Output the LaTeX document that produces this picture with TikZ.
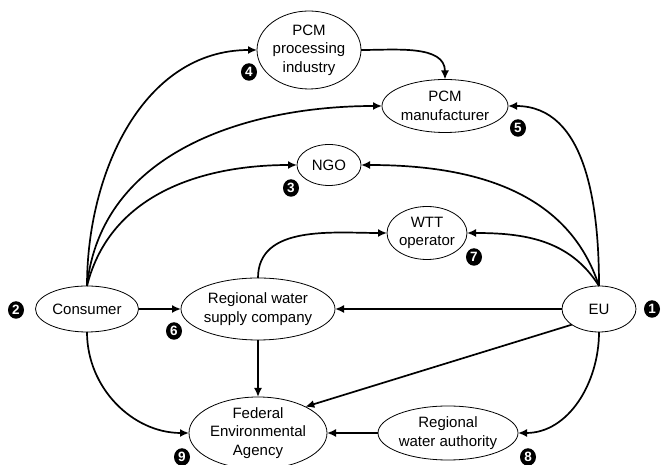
\documentclass[tikz,border=0pt]{standalone}
\usepackage{fontspec}
\setmainfont{Liberation Sans}
\usetikzlibrary{shapes.geometric,arrows.meta}

\tikzset{
  actor/.style={draw, ellipse, line width=0.8pt, inner sep=-10pt, outer sep=0pt,
    align=center, font=\fontsize{15}{18.5}\selectfont},
  flow/.style={line width=1.7pt, -{Latex[length=9pt,width=8pt]}},
  marker/.style={fill=black, ellipse, minimum width=16pt, minimum height=17.5pt,
    inner sep=0pt, text=white, font=\fontsize{13.5}{14}\selectfont\bfseries}
}

\begin{document}
\begin{tikzpicture}[x=1pt, y=1pt]
  \useasboundingbox (0,0) rectangle (662,465);

  % actors
  \node[actor, minimum width=104pt, minimum height=78pt] (proc) at (309,415) {PCM\\processing\\industry};
  \node[actor, minimum width=126pt, minimum height=53pt] (manuf) at (445,359) {PCM\\manufacturer};
  \node[actor, minimum width=64pt, minimum height=41pt] (ngo) at (329,300) {NGO};
  \node[actor, minimum width=80pt, minimum height=53pt] (wtt) at (427,232) {WTT\\operator};
  \node[actor, minimum width=103pt, minimum height=46pt] (consumer) at (87,156) {Consumer};
  \node[actor, minimum width=154pt, minimum height=62pt] (rwsc) at (258,156) {Regional water\\supply company};
  \node[actor, minimum width=74pt, minimum height=46pt] (eu) at (599,156) {EU};
  \node[actor, minimum width=138pt, minimum height=72pt] (fed) at (258,32) {Federal\\Environmental\\Agency};
  \node[actor, minimum width=140pt, minimum height=54pt] (rwa) at (448,32) {Regional\\water authority};

  % numbered markers
  \node[marker] (m1) at (652,156) {1};
  \node[marker] (m2) at (16,155) {2};
  \node[marker] (m3) at (291,277) {3};
  \node[marker] (m4) at (249,393) {4};
  \node[marker] (m5) at (518,337) {5};
  \node[marker] (m6) at (174,134) {6};
  \node[marker] (m7) at (474,208) {7};
  \node[marker] (m8) at (528,8) {8};
  \node[marker] (m9) at (182,8) {9};

  % flows from the consumer
  \draw[flow] (consumer.north) to[out=90, in=180] (proc.west);
  \draw[flow] (consumer.north) to[out=84, in=180] (manuf.west);
  \draw[flow] (consumer.north) to[out=76, in=180] (ngo.west);
  \draw[flow] (consumer.east) -- (rwsc.west);
  \draw[flow] (consumer.south) to[out=270, in=180] (fed.west);

  % flows between industry and utilities
  \draw[flow] (proc.east) to[out=0, in=90] (manuf.north);
  \draw[flow] (rwsc.north) to[out=90, in=180] (wtt.west);
  \draw[flow] (rwsc.south) -- (fed.north);
  \draw[flow] (rwa.west) -- (fed.east);

  % flows from the EU
  \draw[flow] (eu.north) to[out=90, in=0] (manuf.east);
  \draw[flow] (eu.north) to[out=108, in=0] (ngo.east);
  \draw[flow] (eu.north) to[out=122, in=0] (wtt.east);
  \draw[flow] (eu.west) -- (rwsc.east);
  \draw[flow] (eu.210) -- (fed.29);
  \draw[flow] (eu.south) to[out=270, in=0] (rwa.east);
\end{tikzpicture}
\end{document}
